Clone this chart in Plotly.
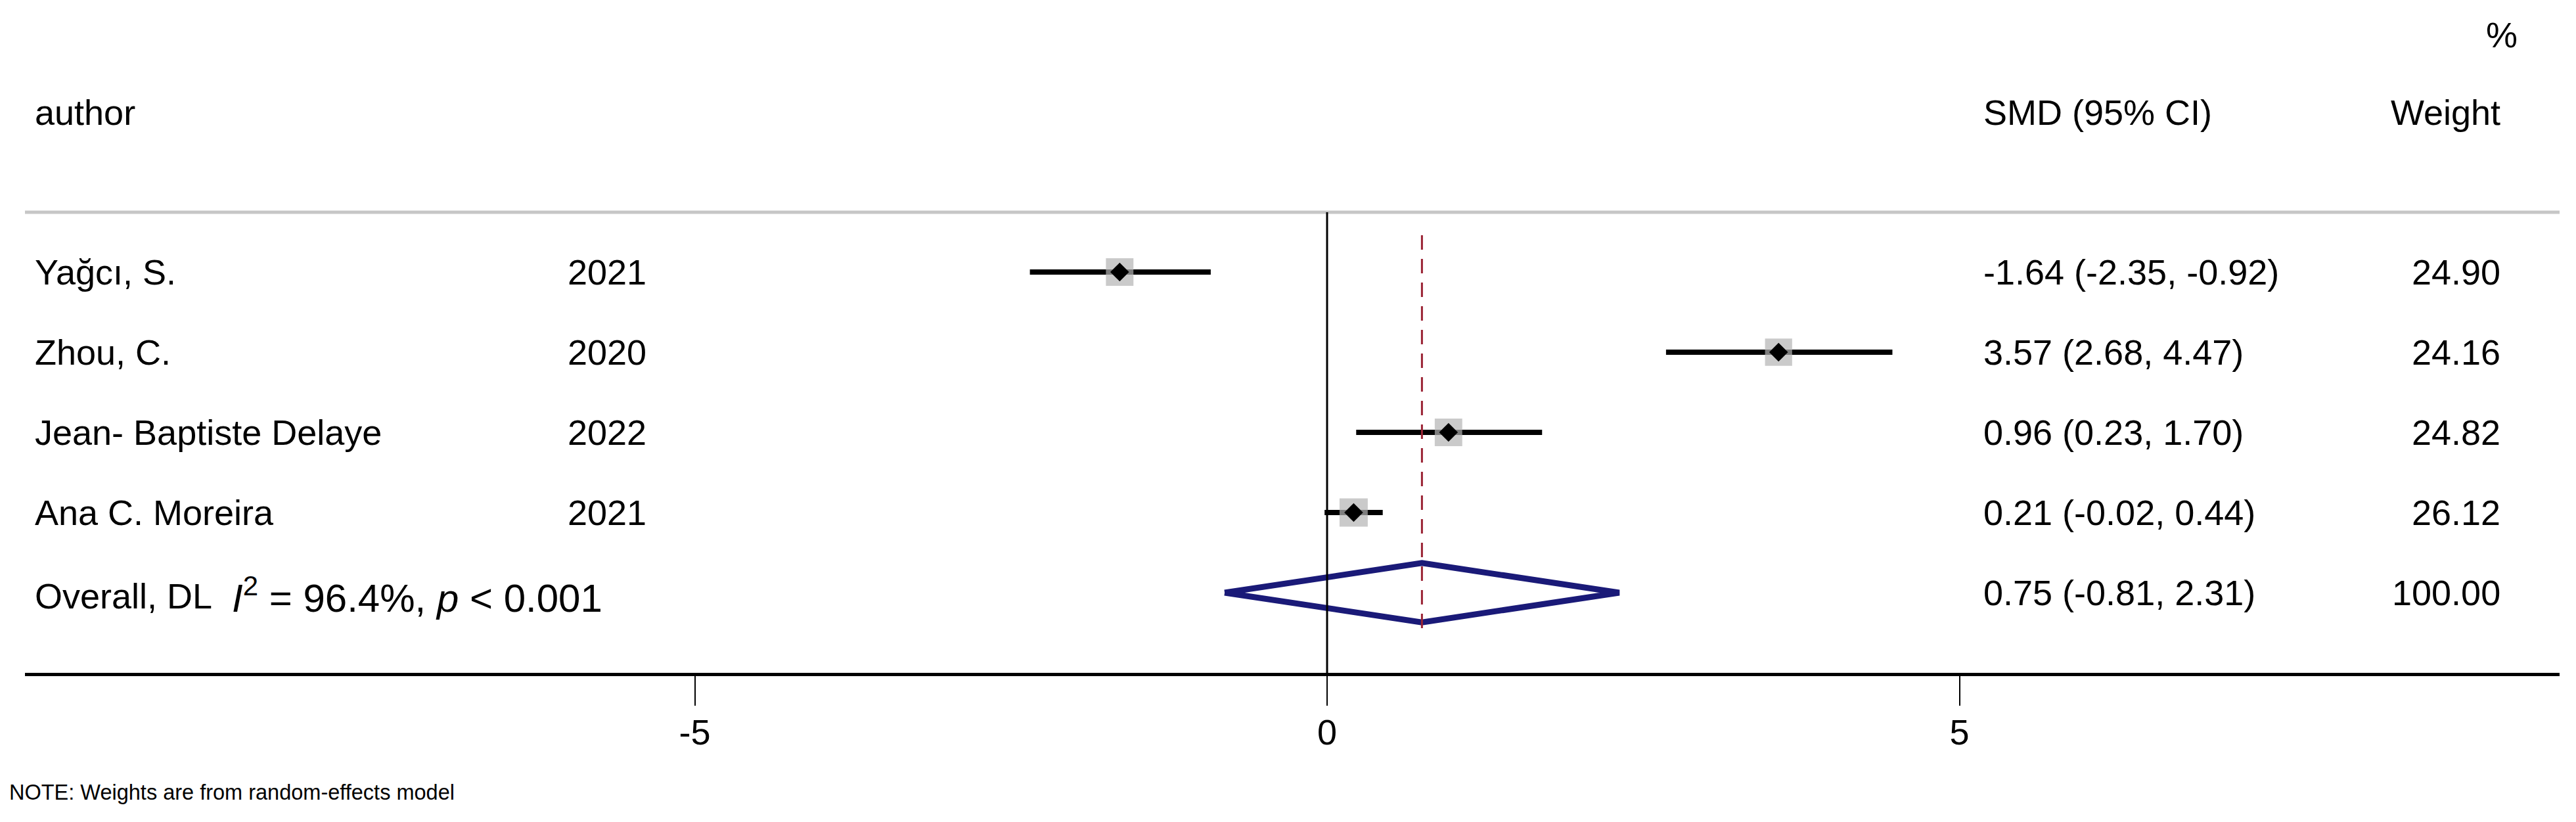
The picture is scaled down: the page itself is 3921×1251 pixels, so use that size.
import plotly.graph_objects as go
import math

# study rows
authors = ["Yağcı, S.", "Zhou, C.", "Jean- Baptiste Delaye", "Ana C. Moreira"]
years = ["2021", "2020", "2022", "2021"]
smd = [-1.64, 3.57, 0.96, 0.21]
ci_low = [-2.35, 2.68, 0.23, -0.02]
ci_high = [-0.92, 4.47, 1.70, 0.44]
weights = [24.90, 24.16, 24.82, 26.12]

# pooled estimate
overall_label = "Overall, DL"
overall_stats = "<i>I</i><sup>2</sup> = 96.4%, <i>p</i> &lt; 0.001"
overall_smd = 0.75
overall_low = -0.81
overall_high = 2.31
overall_weight = 100.00

xticks = [-5, 0, 5]
note = "NOTE: Weights are from random-effects model"

W, H = 3921, 1251
L, R = 30, 33
AXIS_PX = 1016      # bottom of plot area (axis line)
ROW1_PX = 406       # first study row
ROW_H = 122         # row spacing
FONT = "Liberation Sans, Arial, Helvetica, sans-serif"
FS = 54

rows = list(range(1, len(authors) + 1))
overall_row = len(authors) + 1


def px(x):
    # page pixel -> paper x
    return (x - L) / (W - L - R)


fig = go.Figure()

# confidence intervals
ci_x, ci_y = [], []
for lo, hi, r in zip(ci_low, ci_high, rows):
    ci_x += [lo, hi, None]
    ci_y += [r, r, None]
fig.add_trace(go.Scatter(x=ci_x, y=ci_y, mode="lines",
                         line=dict(color="black", width=8), hoverinfo="skip"))

# weight boxes
fig.add_trace(go.Scatter(
    x=smd, y=rows, mode="markers",
    marker=dict(symbol="square", size=[8.4 * math.sqrt(w) for w in weights],
                color="#b4b4b4", line=dict(width=0))
))

# point estimates
fig.add_trace(go.Scatter(
    x=smd, y=rows, mode="markers",
    marker=dict(symbol="diamond", size=22, color="black", line=dict(width=0))
))

# pooled diamond
h = 0.37
fig.add_trace(go.Scatter(
    x=[overall_low, overall_smd, overall_high, overall_smd, overall_low],
    y=[overall_row, overall_row - h, overall_row, overall_row + h, overall_row],
    mode="lines", line=dict(color="#1a1a78", width=9)
))

# header rule, null line, pooled estimate line
fig.add_shape(type="line", xref="paper", x0=0, x1=1, yref="y", y0=0.254, y1=0.254,
              line=dict(color="#c6c6c6", width=5))
fig.add_shape(type="line", xref="x", x0=0, x1=0, yref="y", y0=0.254, y1=6,
              line=dict(color="black", width=3))
fig.add_shape(type="line", xref="x", x0=overall_smd, x1=overall_smd, yref="y", y0=0.54, y1=5.5,
              line=dict(color="#9a2233", width=3, dash="22px,14px"))


def label(text, xpix, row, anchor="left", size=FS):
    fig.add_annotation(text=text, xref="paper", x=px(xpix), yref="y", y=row,
                       xanchor=anchor, yanchor="middle", showarrow=False,
                       font=dict(size=size, color="black", family=FONT))


# headers
label("author", 43, -0.99)
label("SMD (95% CI)", 3009, -0.99)
label("Weight", 3800, -0.99, "right")
label("%", 3826, -1.96, "right")

# study text
for a, yr, e, lo, hi, w, r in zip(authors, years, smd, ci_low, ci_high, weights, rows):
    label(a, 43, r)
    label(yr, 854, r)
    label(f"{e:.2f} ({lo:.2f}, {hi:.2f})", 3009, r)
    label(f"{w:.2f}", 3800, r, "right")

label(overall_label, 43, overall_row + 0.04)
label(overall_stats, 343, overall_row + 0.03, size=60)
label(f"{overall_smd:.2f} ({overall_low:.2f}, {overall_high:.2f})", 3009, overall_row)
label(f"{overall_weight:.2f}", 3800, overall_row, "right")

# footnote below the axis
fig.add_annotation(text=note, xref="paper", x=px(4), yref="paper",
                   y=(AXIS_PX - 1198) / AXIS_PX,
                   xanchor="left", yanchor="middle", showarrow=False,
                   font=dict(size=32.5, color="black", family=FONT))

fig.update_layout(
    width=W, height=H,
    margin=dict(l=L, r=R, t=0, b=H - AXIS_PX),
    plot_bgcolor="white", paper_bgcolor="white",
    showlegend=False,
    font=dict(family=FONT, size=FS, color="black"),
    xaxis=dict(
        range=[-(2012 - L) / 192.5, (W - R - 2012) / 192.5],
        showgrid=False, zeroline=False,
        showline=True, linecolor="black", linewidth=5,
        ticks="outside", ticklen=45, tickwidth=2, tickcolor="black",
        tickvals=xticks, ticktext=[str(t) for t in xticks],
        tickfont=dict(size=FS), ticklabelstandoff=-6,
    ),
    yaxis=dict(range=[6, 1 - ROW1_PX / ROW_H], visible=False),
)

fig.write_html("out.html")
